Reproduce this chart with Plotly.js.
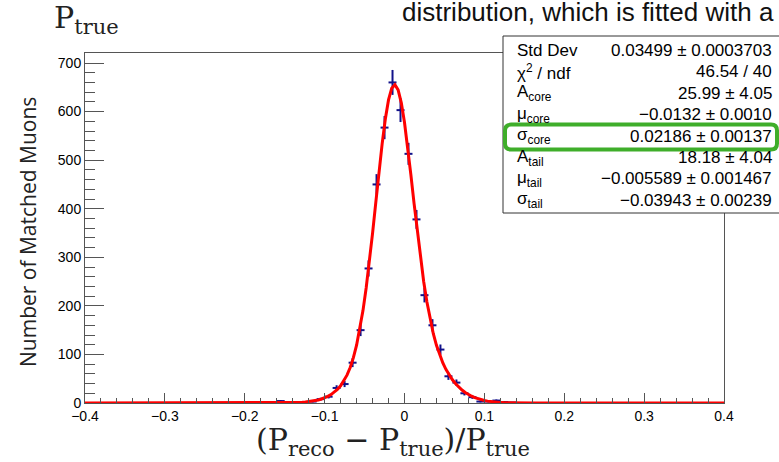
<!DOCTYPE html>
<html>
<head>
<meta charset="utf-8">
<script src="https://cdn.plot.ly/plotly-3.0.1.min.js"></script>
<style>
  html, body { margin: 0; padding: 0; background: #ffffff; }
  #chart { width: 779px; height: 462px; }
</style>
</head>
<body>
<div id="chart"></div>
<script>
// Histogram binning: 80 bins of width 0.01 over [-0.4, 0.4]
const binLow = -0.4;
const binWidth = 0.01;

// Counts per bin, left to right (ten bins per row)
const counts = [
  0, 0, 0, 0, 0, 0, 0, 0, 0, 0,            // -0.40 .. -0.30
  0, 0, 0, 0, 0, 0, 0, 0, 0, 0,            // -0.30 .. -0.20
  0, 0, 0, 2, 4, 0, 1, 2, 3, 8,            // -0.20 .. -0.10
  13, 31, 39, 83, 150, 277, 450, 567, 660, 603, // -0.10 .. 0.00
  513, 378, 222, 160, 110, 55, 42, 20, 12, 3,   //  0.00 .. 0.10
  3, 5, 2, 1, 0, 0, 0, 0, 0, 0,            //  0.10 .. 0.20
  0, 0, 0, 0, 0, 0, 0, 0, 0, 0,            //  0.20 .. 0.30
  0, 0, 0, 0, 0, 0, 0, 0, 0, 0             //  0.30 .. 0.40
];

// Double-Gaussian fit parameters (core + tail)
const fitNames  = ["A_core", "mu_core", "sigma_core", "A_tail", "mu_tail", "sigma_tail"];
const fitValues = [25.99, -0.0132, 0.02186, 18.18, -0.005589, -0.03943];

// Statistics box rows
const statLabels = [
  "Std Dev",
  "χ<sup>2</sup> / ndf",
  "A<sub>core</sub>",
  "μ<sub>core</sub>",
  "σ<sub>core</sub>",
  "A<sub>tail</sub>",
  "μ<sub>tail</sub>",
  "σ<sub>tail</sub>"
];
const statValues = [
  "0.03499 ± 0.0003703",
  "46.54 / 40",
  "25.99 ± 4.05",
  "−0.0132 ± 0.0010",
  "0.02186 ± 0.00137",
  "18.18 ± 4.04",
  "−0.005589 ± 0.001467",
  "−0.03943 ± 0.00239"
];
const highlightRow = 4;

// Bin centres and Poisson errors
const centers = counts.map((_, i) => binLow + binWidth * (i + 0.5));
const errors = counts.map(c => Math.sqrt(c));

// Fit function evaluated on the drawing grid
function gaus(x, a, mu, s) {
  const sa = Math.abs(s);
  return a / (Math.sqrt(2 * Math.PI) * sa) * Math.exp(-0.5 * Math.pow((x - mu) / sa, 2));
}
function fitFunc(x) {
  const p = fitValues;
  return gaus(x, p[0], p[1], p[2]) + gaus(x, p[3], p[4], p[5]);
}
const nSamples = 200;
const fx = [], fy = [];
for (let k = 0; k <= nSamples; k++) {
  const x = -0.4 + 0.8 * k / nSamples;
  fx.push(x);
  fy.push(fitFunc(x));
}

// Plot frame in page pixels
const frame = { left: 85, right: 724, top: 53, bottom: 403 };
const W = frame.right - frame.left, H = frame.bottom - frame.top;
const PX = px => (px - frame.left) / W;
const PY = py => (frame.bottom - py) / H;

const dataColor = "#12128a";
const axisColor = "#555555";

const traces = [
  {
    x: centers, y: counts, type: "scatter", mode: "markers",
    marker: { size: 1, color: dataColor },
    error_x: { type: "constant", value: binWidth / 2, width: 0, thickness: 2, color: dataColor },
    error_y: { type: "data", array: errors, visible: true, width: 0, thickness: 2, color: dataColor },
    hoverinfo: "skip", showlegend: false, cliponaxis: true
  },
  {
    x: fx, y: fy, type: "scatter", mode: "lines",
    line: { color: "#ff0000", width: 3 },
    hoverinfo: "skip", showlegend: false
  }
];

// Statistics box text
const annotations = [];
const rowY0 = 50.5, rowStep = 21.4;
statLabels.forEach((lab, i) => {
  annotations.push({
    xref: "paper", yref: "paper", x: PX(515), y: PY(rowY0 + i * rowStep),
    xanchor: "left", yanchor: "middle", text: lab, showarrow: false,
    font: { family: "Liberation Sans, Arial, sans-serif", size: 17, color: "#000" }
  });
  annotations.push({
    xref: "paper", yref: "paper", x: PX(774), y: PY(rowY0 + i * rowStep),
    xanchor: "right", yanchor: "middle", text: statValues[i], showarrow: false,
    font: { family: "Liberation Sans, Arial, sans-serif", size: 17, color: "#000" }
  });
});

// Axis titles and header fragments
annotations.push({
  xref: "paper", yref: "paper", x: PX(28), y: PY(232), textangle: -90,
  xanchor: "center", yanchor: "middle",
  text: "Number of Matched Muons", showarrow: false,
  font: { family: "Open Sans, sans-serif", size: 21, color: "#222" }
});
annotations.push({
  xref: "paper", yref: "paper", x: PX(393), y: PY(441), xanchor: "center", yanchor: "middle",
  text: "(P<sub>reco</sub> − P<sub>true</sub>)/P<sub>true</sub>", showarrow: false,
  font: { family: "DejaVu Serif, serif", size: 30, color: "#222" }
});
annotations.push({
  xref: "paper", yref: "paper", x: PX(52), y: PY(20), xanchor: "left", yanchor: "middle",
  text: "P<sub>true</sub>", showarrow: false,
  font: { family: "DejaVu Serif, serif", size: 30, color: "#222" }
});
annotations.push({
  xref: "paper", yref: "paper", x: PX(400), y: PY(29), xanchor: "left", yanchor: "bottom",
  text: "distribution, which is fitted with a", showarrow: false,
  font: { family: "Liberation Sans, Arial, sans-serif", size: 26, color: "#111" }
});

// Rounded highlight around one statistics row
function roundedRect(x0, y0, x1, y1, r) {
  const rx = r / W, ry = r / H;
  const L = PX(x0), R = PX(x1), T = PY(y0), B = PY(y1);
  return `M ${L + rx} ${T} L ${R - rx} ${T} Q ${R} ${T} ${R} ${T - ry} ` +
         `L ${R} ${B + ry} Q ${R} ${B} ${R - rx} ${B} L ${L + rx} ${B} ` +
         `Q ${L} ${B} ${L} ${B + ry} L ${L} ${T - ry} Q ${L} ${T} ${L + rx} ${T} Z`;
}
const hlY = rowY0 + highlightRow * rowStep;

const shapes = [
  {
    type: "rect", xref: "paper", yref: "paper", layer: "above",
    x0: PX(503), x1: PX(792), y0: PY(213), y1: PY(36),
    line: { color: "#333", width: 1 }, fillcolor: "#ffffff"
  },
  {
    type: "path", xref: "paper", yref: "paper", layer: "above",
    path: roundedRect(505, hlY - 11.5, 777, hlY + 13.5, 6),
    line: { color: "#3fae2a", width: 4 }
  }
];

const layout = {
  width: 779, height: 462,
  margin: { l: frame.left, r: 779 - frame.right, t: frame.top, b: 462 - frame.bottom, pad: 0 },
  paper_bgcolor: "#ffffff", plot_bgcolor: "#ffffff",
  showlegend: false,
  xaxis: {
    range: [-0.4, 0.4], dtick: 0.1, tick0: 0,
    ticks: "inside", ticklen: 10.5, tickwidth: 1, tickcolor: axisColor,
    minor: { dtick: 0.02, ticks: "inside", ticklen: 5, tickcolor: axisColor, showgrid: false },
    showline: true, linecolor: axisColor, linewidth: 1, mirror: true,
    showgrid: false, zeroline: false,
    tickfont: { family: "Liberation Sans, Arial, sans-serif", size: 14, color: "#000" }
  },
  yaxis: {
    range: [0, 720.6], dtick: 100, tick0: 0,
    ticks: "inside", ticklen: 19, tickwidth: 1, tickcolor: axisColor,
    minor: { dtick: 20, ticks: "inside", ticklen: 9.5, tickcolor: axisColor, showgrid: false },
    showline: true, linecolor: axisColor, linewidth: 1, mirror: true,
    showgrid: false, zeroline: false,
    tickfont: { family: "Liberation Sans, Arial, sans-serif", size: 14, color: "#000" }
  },
  annotations: annotations,
  shapes: shapes
};

Plotly.newPlot("chart", traces, layout, { staticPlot: true, displayModeBar: false });
</script>
</body>
</html>
